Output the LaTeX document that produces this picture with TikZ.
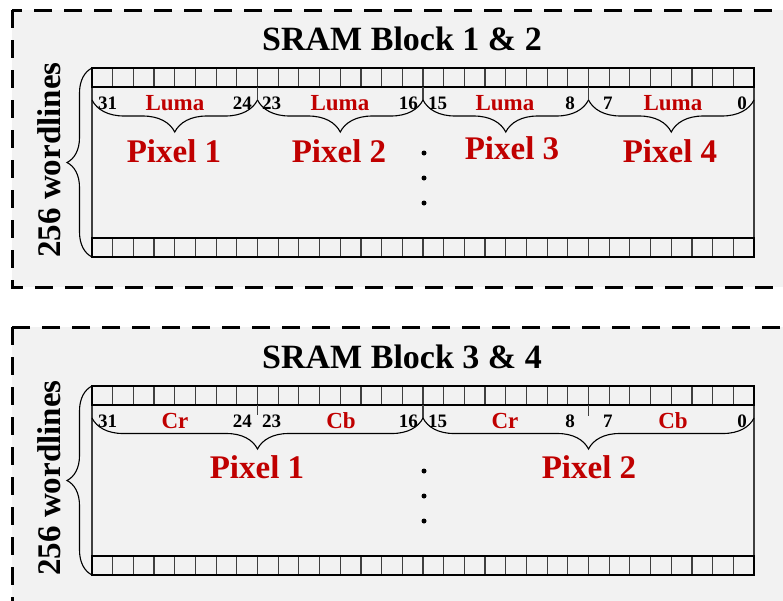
\documentclass[tikz,border=0pt]{standalone}
\usepackage{fontspec}
\setmainfont{Liberation Serif}
\usetikzlibrary{decorations.pathreplacing}
\definecolor{panelgray}{HTML}{F2F2F2}
\definecolor{pixred}{HTML}{C00000}
\tikzset{
  panel/.style={fill=panelgray, draw=black, line width=3pt, dash pattern=on 18pt off 12pt},
  cellline/.style={draw=black!75, line width=1.2pt},
  rowframe/.style={draw=black, line width=1.6pt},
  bracedec/.style={decorate, decoration={brace, amplitude=#1}, line width=1.1pt},
  titletext/.style={font=\fontsize{34}{34}\selectfont\bfseries, anchor=base, inner sep=0pt},
  bitnum/.style={font=\fontsize{19}{19}\selectfont\bfseries, inner sep=0pt},
  fieldtext/.style={font=\fontsize{23}{23}\selectfont\bfseries, text=pixred, anchor=base, inner sep=0pt},
  pixlabel/.style={font=\fontsize{33}{33}\selectfont\bfseries, text=pixred, anchor=base, inner sep=0pt},
  wordl/.style={font=\fontsize{33}{33}\selectfont\bfseries, rotate=90, anchor=base, inner sep=0pt},
  dotmark/.style={circle, fill=black, inner sep=0pt, minimum size=5pt},
}
\newcommand{\memgrid}{%
  \foreach \i in {1,...,31} {
    \draw[cellline] ({92+\i*20.6875},68) -- ++(0,19);
    \draw[cellline] ({92+\i*20.6875},238) -- ++(0,19);
  }
  \draw[cellline] (92,87) -- (92,238);
  \draw[cellline] (754,87) -- (754,238);
  \draw[rowframe] (92,68) rectangle (754,87);
  \draw[rowframe] (92,238) rectangle (754,257);
  \draw[bracedec=25pt] (92,257) -- (92,68);
}
\newcommand{\bitnumbers}{%
  \node[bitnum, anchor=base west] (n31) at (98,109) {31};
  \node[bitnum, anchor=base east] (n24) at (252,109) {24};
  \node[bitnum, anchor=base west] (n23) at (262,109) {23};
  \node[bitnum, anchor=base east] (n16) at (418,109) {16};
  \node[bitnum, anchor=base west] (n15) at (428,109) {15};
  \node[bitnum, anchor=base east] (n8) at (575,109) {8};
  \node[bitnum, anchor=base west] (n7) at (603,109) {7};
  \node[bitnum, anchor=base east] (n0) at (747,109) {0};
  \node[dotmark] (d1) at (424,153) {};
  \node[dotmark] (d2) at (424,178) {};
  \node[dotmark] (d3) at (424,203) {};
}
\begin{document}
\begin{tikzpicture}[x=1pt,y=-1pt]
\useasboundingbox (0,0) rectangle (783,600);
\clip (0,0) rectangle (783,600);
% ---------- panel 1 ----------
\path[panel] (12,10) rectangle (820,287);
\node[titletext] (t1) at (402,50) {SRAM Block 1 \& 2};
\memgrid
\node[wordl] (w1) at (60,160) {256 wordlines};
\bitnumbers
\foreach \x in {257.5,423,588.5} \draw[cellline] (\x,87) -- (\x,100);
\draw[bracedec=32pt] (257.5,100) -- (92,100);
\draw[bracedec=32pt] (423,100) -- (257.5,100);
\draw[bracedec=32pt] (588.5,100) -- (423,100);
\draw[bracedec=32pt] (754,100) -- (588.5,100);
\node[fieldtext] (l1) at (175,110) {Luma};
\node[fieldtext] (l2) at (340,110) {Luma};
\node[fieldtext] (l3) at (505,110) {Luma};
\node[fieldtext] (l4) at (673,110) {Luma};
\node[pixlabel] (p1) at (174,162) {Pixel 1};
\node[pixlabel] (p2) at (339,162) {Pixel 2};
\node[pixlabel] (p3) at (512,159) {Pixel 3};
\node[pixlabel] (p4) at (670,162) {Pixel 4};
% ---------- panel 2 ----------
\begin{scope}[yshift=-318pt]
\path[panel] (12,9) rectangle (820,320);
\node[titletext] (t2) at (402,50) {SRAM Block 3 \& 4};
\memgrid
\node[wordl] (w2) at (60,160) {256 wordlines};
\bitnumbers
\draw[cellline] (257.5,87) -- (257.5,97);
\draw[cellline] (588.5,87) -- (588.5,98);
\draw[cellline] (423,87) -- (423,100);
\draw[bracedec=31pt] (423,100) -- (92,100);
\draw[bracedec=31pt] (754,100) -- (423,100);
\node[fieldtext] (c1) at (175,110) {Cr};
\node[fieldtext] (c2) at (341,110) {Cb};
\node[fieldtext] (c3) at (505,110) {Cr};
\node[fieldtext] (c4) at (673,110) {Cb};
\node[pixlabel] (q1) at (257,160) {Pixel 1};
\node[pixlabel] (q2) at (589,160) {Pixel 2};
\end{scope}
\end{tikzpicture}
\end{document}
